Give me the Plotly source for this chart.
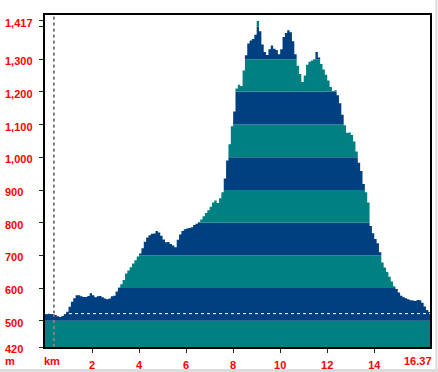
import plotly.graph_objects as go

# ---- data ----
distance_km = [
    0.0, 0.1, 0.2, 0.3, 0.4, 0.5, 0.6, 0.7, 0.8, 0.9,
    1.0, 1.1, 1.2, 1.3, 1.4, 1.5, 1.6, 1.7, 1.8, 1.9,
    2.0, 2.1, 2.2, 2.3, 2.4, 2.5, 2.6, 2.7, 2.8, 2.9,
    3.0, 3.1, 3.2, 3.3, 3.4, 3.5, 3.6, 3.7, 3.8, 3.9,
    4.0, 4.1, 4.2, 4.3, 4.4, 4.5, 4.6, 4.7, 4.8, 4.9,
    5.0, 5.1, 5.2, 5.3, 5.4, 5.5, 5.6, 5.7, 5.8, 5.9,
    6.0, 6.1, 6.2, 6.3, 6.4, 6.5, 6.6, 6.7, 6.8, 6.9,
    7.0, 7.1, 7.2, 7.3, 7.4, 7.5, 7.6, 7.7, 7.8, 7.9,
    8.0, 8.1, 8.2, 8.3, 8.4, 8.5, 8.6, 8.7, 8.8, 8.9,
    9.0, 9.1, 9.2, 9.3, 9.4, 9.5, 9.6, 9.7, 9.8, 9.9,
    10.0, 10.1, 10.2, 10.3, 10.4, 10.5, 10.6, 10.7, 10.8, 10.9,
    11.0, 11.1, 11.2, 11.3, 11.4, 11.5, 11.6, 11.7, 11.8, 11.9,
    12.0, 12.1, 12.2, 12.3, 12.4, 12.5, 12.6, 12.7, 12.8, 12.9,
    13.0, 13.1, 13.2, 13.3, 13.4, 13.5, 13.6, 13.7, 13.8, 13.9,
    14.0, 14.1, 14.2, 14.3, 14.4, 14.5, 14.6, 14.7, 14.8, 14.9,
    15.0, 15.1, 15.2, 15.3, 15.4, 15.5, 15.6, 15.7, 15.8, 15.9,
    16.0, 16.1, 16.2, 16.3, 16.37,
]
elevation_m = [
    522, 522, 521, 521, 518, 514, 512, 515, 522, 528,
    543, 558, 569, 578, 578, 575, 573, 573, 576, 584,
    578, 572, 575, 576, 572, 568, 566, 568, 575, 577,
    590, 602, 612, 625, 645, 654, 664, 675, 685, 697,
    706, 722, 742, 755, 762, 766, 767, 775, 770, 760,
    749, 740, 741, 735, 730, 725, 748, 764, 775, 780,
    782, 784, 786, 793, 797, 802, 810, 820, 830, 838,
    849, 862, 868, 860, 875, 893, 935, 990, 1040, 1095,
    1140, 1210, 1222, 1218, 1265, 1312, 1348, 1357, 1362, 1375,
    1417, 1385, 1345, 1322, 1313, 1330, 1342, 1332, 1328, 1315,
    1330, 1368, 1380, 1388, 1382, 1355, 1315, 1280, 1255, 1230,
    1250, 1283, 1292, 1296, 1300, 1322, 1305, 1285, 1268, 1252,
    1235, 1215, 1203, 1205, 1190, 1165, 1130, 1098, 1075, 1076,
    1068, 1048, 1018, 983, 958, 918, 893, 862, 790, 768,
    750, 737, 710, 678, 663, 649, 635, 620, 606, 597,
    587, 577, 572, 569, 566, 563, 562, 561, 564, 563,
    555, 544, 533, 527, 523,
]
band_tops = [500, 600, 700, 800, 900, 1000, 1100, 1200, 1300, 1400, 1435]
y_tick_values = [420, 500, 600, 700, 800, 900, 1000, 1100, 1200, 1300, 1400, 1417]
y_tick_labels = ["420", "500", "600", "700", "800", "900", "1,000", "1,100",
                 "1,200", "1,300", "", "1,417"]
x_tick_values = [2, 4, 6, 8, 10, 12, 14]
x_tick_labels = ["2", "4", "6", "8", "10", "12", "14"]
cursor_km = 0.38
cursor_elev = 522

# ---- styling ----
BLUE = "#004080"
TEAL = "#008080"
RED = "#FF0000"
TICK = "#004000"
Y_MIN, Y_MAX = 420, 1435
X_MAX = distance_km[-1]
FONT = dict(family="Arial, Liberation Sans, sans-serif", size=11, color=RED, weight="bold")

fig = go.Figure()
fig.add_trace(go.Scatter(x=distance_km, y=[Y_MIN] * len(distance_km), mode="lines",
                         line=dict(width=0, shape="hv"), hoverinfo="skip", showlegend=False))
for i, top in enumerate(band_tops):
    color = TEAL if i % 2 == 0 else BLUE
    ys = [min(max(e, Y_MIN), top) for e in elevation_m]
    fig.add_trace(go.Scatter(x=distance_km, y=ys, mode="lines",
                             line=dict(width=0, shape="hv"), fill="tonexty",
                             fillcolor=color, hoverinfo="skip", showlegend=False))

# cursor lines
fig.add_shape(type="line", xref="x", yref="y", x0=cursor_km, x1=cursor_km,
              y0=cursor_elev, y1=Y_MAX, line=dict(color="black", width=1, dash="dot"))
fig.add_shape(type="line", xref="x", yref="y", x0=cursor_km, x1=cursor_km,
              y0=Y_MIN, y1=cursor_elev, line=dict(color="#FF8080", width=1, dash="dot"))
fig.add_shape(type="line", xref="x", yref="y", x0=0, x1=X_MAX,
              y0=cursor_elev, y1=cursor_elev, line=dict(color="white", width=1, dash="dot"))

# left-aligned y labels
plot_w = 438 - 45 - 8
plot_h = 372 - 15 - 25
for v, t in zip(y_tick_values, y_tick_labels):
    if t:
        fig.add_annotation(text=t, xref="paper", yref="y", x=(3 - 45) / plot_w, y=v,
                           yshift=-2, xanchor="left", yanchor="middle", showarrow=False,
                           font=FONT)
fig.add_annotation(text="m", xref="paper", yref="paper", x=(3 - 45) / plot_w, y=0,
                   yshift=-14, xanchor="left", yanchor="middle", showarrow=False, font=FONT)
fig.add_annotation(text="km", xref="x", yref="paper", x=0, y=0, xshift=-3,
                   yshift=-14, xanchor="left", yanchor="middle", showarrow=False, font=FONT)
fig.add_annotation(text=f"{X_MAX:.2f}", xref="x", yref="paper", x=X_MAX, y=0, xshift=4,
                   yshift=-14, xanchor="right", yanchor="middle", showarrow=False, font=FONT)

# light gray image frame (right and bottom)
fig.add_shape(type="line", xref="paper", yref="paper", x0=(436.5 - 45) / plot_w,
              x1=(436.5 - 45) / plot_w, y0=-25 / plot_h, y1=(372 - 25) / plot_h,
              line=dict(color="#DCDCDC", width=2))
fig.add_shape(type="line", xref="paper", yref="paper", x0=-45 / plot_w, x1=(438 - 45) / plot_w,
              y0=-23.5 / plot_h, y1=-23.5 / plot_h, line=dict(color="#DCDCDC", width=3))

fig.update_xaxes(range=[0, X_MAX], showgrid=False, zeroline=False, automargin=False,
                 showline=True, linecolor="black", linewidth=2, mirror=True,
                 tickmode="array", tickvals=x_tick_values, ticktext=x_tick_labels,
                 ticks="outside", ticklen=4, tickcolor=TICK, tickwidth=1,
                 ticklabelstandoff=3, tickfont=FONT)
fig.update_yaxes(range=[Y_MIN, Y_MAX], showgrid=False, zeroline=False, automargin=False,
                 showline=True, linecolor="black", linewidth=2, mirror=True,
                 tickmode="array", tickvals=y_tick_values,
                 ticks="outside", ticklen=4, tickcolor=TICK, tickwidth=1,
                 showticklabels=False)
fig.update_layout(width=438, height=372, margin=dict(l=45, r=8, t=15, b=25),
                  plot_bgcolor="white", paper_bgcolor="white", showlegend=False)

fig.write_html("out.html", config={"displayModeBar": False},
               post_script="document.body.style.margin='0';document.body.style.padding='0';")
